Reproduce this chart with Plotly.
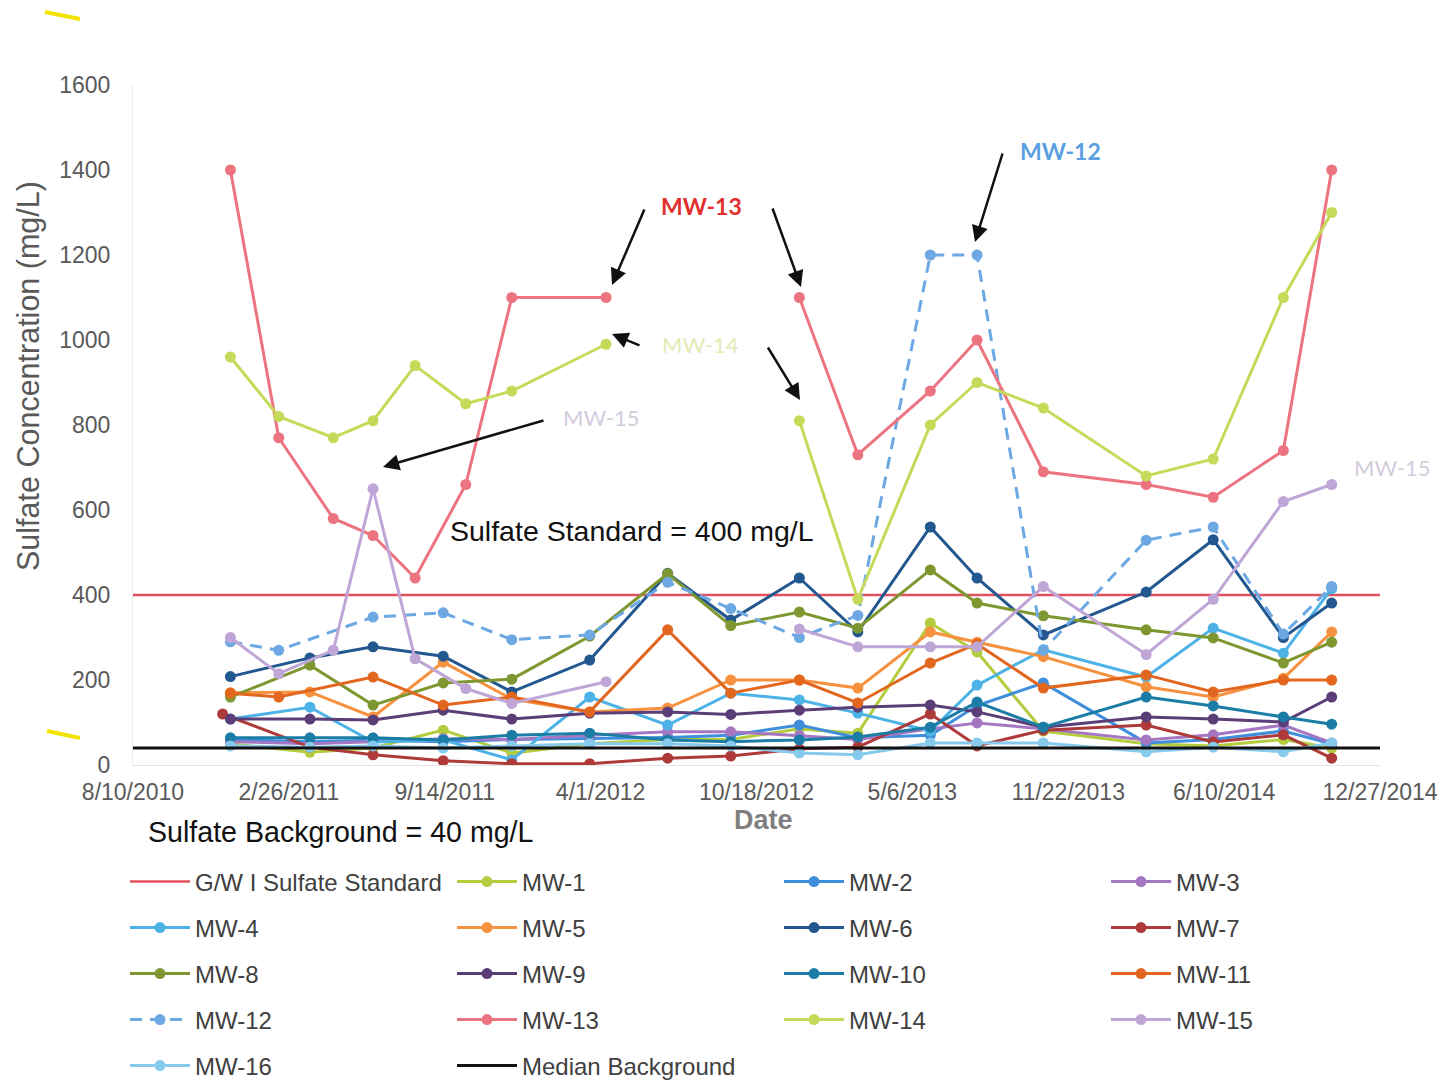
import plotly.graph_objects as go

# ---------------- data ----------------
X_START, X_END = "2010-08-10", "2014-12-27"
TICK_DATES = ["2010-08-10", "2011-02-26", "2011-09-14", "2012-04-01", "2012-10-18",
              "2013-05-06", "2013-11-22", "2014-06-10", "2014-12-27"]
TICK_LABELS = ["8/10/2010", "2/26/2011", "9/14/2011", "4/1/2012", "10/18/2012",
               "5/6/2013", "11/22/2013", "6/10/2014", "12/27/2014"]
Y_TICKS = [0, 200, 400, 600, 800, 1000, 1200, 1400, 1600]

STANDARD = 400
BACKGROUND = 40

DATES_A = ["2010-12-13", "2011-03-25", "2011-06-14", "2011-09-12", "2011-12-09", "2012-03-18",
           "2012-06-26", "2012-09-15", "2012-12-12", "2013-02-25", "2013-05-29", "2013-07-28",
           "2013-10-21", "2014-03-02", "2014-05-27", "2014-08-25", "2014-10-26"]
DATES_MW7 = ["2010-12-03", "2011-03-25", "2011-06-14", "2011-09-12", "2011-12-09", "2012-03-18",
             "2012-06-26", "2012-09-15", "2012-12-12", "2013-02-25", "2013-05-29", "2013-07-28",
             "2013-10-21", "2014-03-02", "2014-05-27", "2014-08-25", "2014-10-26"]
DATES_B = ["2010-12-13", "2011-02-13", "2011-04-24", "2011-06-14", "2011-08-07", "2011-10-11",
           "2011-12-09", "2012-04-08", "2012-08-15", "2012-12-12", "2013-02-25", "2013-05-29",
           "2013-07-28", "2013-10-21", "2014-03-02", "2014-05-27", "2014-08-25", "2014-10-26"]
DATES_C = ["2010-12-13", "2011-02-13", "2011-06-14", "2011-09-12", "2011-12-09", "2012-03-18",
           "2012-06-26", "2012-09-15", "2012-12-12", "2013-02-25", "2013-05-29", "2013-07-28",
           "2013-10-21", "2014-03-02", "2014-05-27", "2014-08-25", "2014-10-26"]

MW1 = [50, 30, 40, 82, 28, 50, 60, 60, 85, 75, 334, 266, 80, 50, 45, 60, 40]
MW2 = [60, 55, 58, 55, 60, 62, 65, 70, 94, 64, 70, 140, 193, 52, 60, 80, 50]
MW3 = [55, 50, 55, 62, 60, 70, 78, 78, 69, 60, 85, 99, 85, 59, 71, 94, 52]
MW4 = [108, 136, 54, 59, 12, 160, 94, 169, 153, 122, 80, 188, 271, 207, 322, 263, 415]
MW5 = [170, 172, 113, 242, 155, 125, 134, 200, 200, 181, 313, 289, 255, 184, 160, 204, 313]
MW6 = [208, 252, 278, 256, 172, 247, 451, 341, 440, 313, 560, 440, 306, 407, 530, 300, 381]
MW7 = [120, 42, 24, 10, 3, 3, 16, 21, 38, 42, 120, 45, 82, 94, 54, 71, 16]
MW8 = [160, 235, 141, 193, 202, 303, 450, 328, 360, 322, 459, 381, 351, 318, 299, 240, 289]
MW9 = [108, 108, 106, 129, 108, 122, 125, 119, 129, 136, 141, 125, 89, 113, 108, 101, 160]
MW10 = [64, 64, 64, 59, 70, 75, 59, 55, 59, 66, 89, 148, 89, 160, 139, 113, 96]
MW11 = [169, 160, 207, 141, 160, 125, 318, 169, 200, 146, 240, 285, 181, 212, 172, 200, 200]
MW12 = [290, 270, 348, 358, 295, 306, 430, 368, 300, 352, 1200, 1200, 270, 529, 560, 308, 420]
MW13 = [1400, 770, 580, 540, 440, 660, 1100, 1100, None, 1100, 730, 880, 1000, 690, 660, 630, 740, 1400]
MW14 = [960, 820, 770, 810, 940, 850, 880, 990, None, 810, 390, 800, 900, 840, 680, 720, 1100, 1300]
MW15 = [300, 215, 270, 650, 250, 180, 145, 196, None, 320, 278, 278, 278, 420, 260, 390, 620, 660]
MW16 = [45, 42, 45, 40, 45, 50, 50, 45, 28, 24, 52, 52, 52, 31, 42, 31, 52]

WELLS = [
    ("MW-1", DATES_A, MW1, "#B4CC3E", "solid"),
    ("MW-2", DATES_A, MW2, "#3F8EDC", "solid"),
    ("MW-3", DATES_A, MW3, "#A577C3", "solid"),
    ("MW-4", DATES_A, MW4, "#4DB2E6", "solid"),
    ("MW-5", DATES_A, MW5, "#F6923F", "solid"),
    ("MW-6", DATES_A, MW6, "#22578F", "solid"),
    ("MW-7", DATES_MW7, MW7, "#AE3A3A", "solid"),
    ("MW-8", DATES_A, MW8, "#7E9730", "solid"),
    ("MW-9", DATES_A, MW9, "#5B3D78", "solid"),
    ("MW-10", DATES_A, MW10, "#1B7DA6", "solid"),
    ("MW-11", DATES_C, MW11, "#E3661F", "solid"),
    ("MW-12", DATES_C, MW12, "#6DA8E3", "12px,8px"),
    ("MW-13", DATES_B, MW13, "#EC7480", "solid"),
    ("MW-14", DATES_B, MW14, "#C6DA5A", "solid"),
    ("MW-15", DATES_B, MW15, "#BFA6D6", "solid"),
    ("MW-16", DATES_A, MW16, "#86CAEE", "solid"),
]

# ---------------- figure ----------------
FONT = "Liberation Sans, Arial, sans-serif"
fig = go.Figure()

legend_names = ["legend", "legend2", "legend3", "legend4", "legend5"]


def leg(i):
    return legend_names[i // 4]


idx = 0
fig.add_trace(go.Scatter(x=[X_START, X_END], y=[STANDARD, STANDARD], mode="lines",
                         name="G/W I Sulfate Standard", line=dict(color="#E2505F", width=2.5),
                         legend=leg(idx)))
idx += 1
for name, dates, vals, color, dash in WELLS:
    fig.add_trace(go.Scatter(x=dates, y=vals, mode="lines+markers", name=name,
                             line=dict(color=color, width=3, dash=dash),
                             marker=dict(color=color, size=11),
                             connectgaps=False, legend=leg(idx)))
    idx += 1
fig.add_trace(go.Scatter(x=[X_START, X_END], y=[BACKGROUND, BACKGROUND], mode="lines",
                         name="Median Background", line=dict(color="#111111", width=3),
                         legend=leg(idx)))

# plot area in screenshot pixels (page body adds an 8px offset)
OFF = 8
PLOT_L, PLOT_R, PLOT_T, PLOT_B = 133, 1380, 85, 765
W, H = 1452 - OFF, 1087 - OFF


def px_x(p):
    return (p - PLOT_L) / (PLOT_R - PLOT_L)


def px_y(p):
    return (PLOT_B - p) / (PLOT_B - PLOT_T)


row_centers = [882, 928, 974, 1020, 1066]
legend_layout = {}
for i, ln in enumerate(legend_names):
    legend_layout[ln] = dict(
        orientation="h", x=px_x(125), xanchor="left", y=px_y(row_centers[i]), yanchor="middle",
        entrywidth=252, entrywidthmode="pixels", itemwidth=60,
        font=dict(family=FONT, size=24, color="#404040"), bgcolor="rgba(0,0,0,0)",
        traceorder="normal",
    )


def label(text, x, y, size, color, family=FONT, xanchor="center", angle=0):
    return dict(text=text, x=px_x(x), y=px_y(y), xref="paper", yref="paper",
                xanchor=xanchor, yanchor="middle", textangle=angle, showarrow=False,
                font=dict(family=family, size=size, color=color))


annotations = [
    label("Sulfate Concentration (mg/L)", 28, 376, 30.5, "#595959", angle=-90),
    label("<b>Date</b>", 763, 820, 27, "#7F7F7F"),
    label("Sulfate Standard = 400 mg/L", 448, 531, 28.5, "#111111", xanchor="left"),
    label("Sulfate Background = 40 mg/L", 146, 832, 28.6, "#111111", xanchor="left"),
    label("<b>MW-13</b>", 701, 206, 23, "#E0302E", family="Lato, sans-serif"),
    label("<b>MW-12</b>", 1060, 151, 23, "#5A9FE0", family="Lato, sans-serif"),
    label("MW-14", 700, 344, 22, "#E2EBB4", family="Lato, sans-serif"),
    label("MW-15", 601, 417, 22, "#D3CCDD", family="Lato, sans-serif"),
    label("MW-15", 1392, 467, 22, "#D3CCDD", family="Lato, sans-serif"),
]

arrows = [((612, 285), (645, 208)), ((801, 287), (772, 207)), ((975, 242), (1003, 152)),
          ((612, 334), (641, 346)), ((800, 400), (767, 346)), ((383, 467), (545, 420))]
for (hx, hy), (tx, ty) in arrows:
    annotations.append(dict(text="", x=px_x(hx), y=px_y(hy), xref="paper", yref="paper",
                            ax=tx - hx, ay=ty - hy, showarrow=True, arrowhead=2,
                            arrowsize=1.3, arrowwidth=2.5, arrowcolor="#111111", standoff=0))

shapes = [
    dict(type="line", xref="paper", yref="paper", x0=px_x(45), y0=px_y(12), x1=px_x(80), y1=px_y(19),
         line=dict(color="#F2E400", width=4)),
    dict(type="line", xref="paper", yref="paper", x0=px_x(47), y0=px_y(731), x1=px_x(80), y1=px_y(738),
         line=dict(color="#F2E400", width=4)),
]

fig.update_layout(
    width=W, height=H, autosize=False,
    margin=dict(l=PLOT_L - OFF, r=W - (PLOT_R - OFF), t=PLOT_T - OFF, b=H - (PLOT_B - OFF),
                autoexpand=False),
    paper_bgcolor="white", plot_bgcolor="white",
    font=dict(family=FONT, color="#595959"),
    showlegend=True,
    annotations=annotations,
    shapes=shapes,
    xaxis=dict(type="date", range=[X_START, X_END], tickvals=TICK_DATES, ticktext=TICK_LABELS,
               showgrid=False, zeroline=False, showline=True, linecolor="#E3E3E3", linewidth=1,
               ticks="", ticklabelstandoff=6,
               tickfont=dict(family=FONT, size=23, color="#595959")),
    yaxis=dict(range=[0, 1600], tickvals=Y_TICKS, showgrid=False, zeroline=False,
               showline=True, linecolor="#EDEDED", linewidth=1, ticks="", ticklabelstandoff=17,
               tickfont=dict(family=FONT, size=23, color="#595959")),
    **legend_layout,
)

fig.write_html("out.html")
